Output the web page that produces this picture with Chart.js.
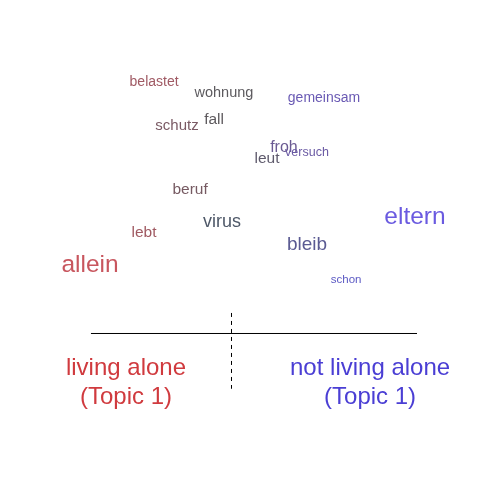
<!DOCTYPE html>
<html>
<head>
<meta charset="utf-8">
<script src="https://cdn.jsdelivr.net/npm/chart.js@4"></script>
<style>
html,body{margin:0;padding:0;background:#fff;}
#wrap{width:480px;height:480px;}
</style>
</head>
<body>
<div id="wrap"><canvas id="c" width="480" height="480"></canvas></div>
<script>
// Data
const words = ["belastet","wohnung","gemeinsam","schutz","fall","froh","versuch","leut","beruf","virus","lebt","eltern","bleib","allein","schon"];
const wordX = [-0.358,-0.067,0.35,-0.2625,-0.108,0.183,0.279,0.1125,-0.208,-0.075,-0.4,0.729,0.279,-0.625,0.442];
const wordY = [0.828,0.807,0.795,0.737,0.751,0.693,0.682,0.670,0.605,0.537,0.516,0.547,0.491,0.447,0.416];
const topicLabels = [["living alone","(Topic 1)"],["not living alone","(Topic 1)"]];
const labelX = [-0.475, 0.542];
const labelY = [0.233, 0.173];
const baseLineX = [-0.621, 0.7375];
const baseLineY = 0.30521;
const dividerX = -0.03542;
const dividerY = [0.348, 0.19];

// Styles
const wordSizes = [14,14.5,14,15,15.5,16,12.5,15.5,15.5,18,15.5,24.5,19,24.5,11.5];
const wordColors = ["#a05a64","#5c5a5e","#6a5ab4","#7a5a64","#5e5a5e","#6a5a92","#6a5aa4","#5e5a6c","#765a62","#4e5868","#a05a62","#6a5ae0","#5a5a92","#c8565e","#5c5ac4"];
const labelColors = ["#d03a3e","#4a3ed4"];

const textPlugin = {
  id: 'wordText',
  afterDatasetsDraw(chart) {
    const ctx = chart.ctx;
    const xs = chart.scales.x, ys = chart.scales.y;
    ctx.save();
    ctx.textAlign = 'center';
    ctx.textBaseline = 'middle';
    const meta = chart.getDatasetMeta(0);
    meta.data.forEach((pt, i) => {
      ctx.font = wordSizes[i] + 'px "Liberation Sans", Arial, sans-serif';
      ctx.fillStyle = wordColors[i];
      ctx.fillText(words[i], pt.x, pt.y);
    });
    topicLabels.forEach((lines, k) => {
      ctx.font = '24px "Liberation Sans", Arial, sans-serif';
      ctx.fillStyle = labelColors[k];
      lines.forEach((t, j) => {
        ctx.fillText(t, xs.getPixelForValue(labelX[k]), ys.getPixelForValue(labelY[j]));
      });
    });
    ctx.restore();
  }
};

new Chart(document.getElementById('c'), {
  type: 'scatter',
  data: {
    datasets: [
      { data: words.map((w, i) => ({x: wordX[i], y: wordY[i]})), pointRadius: 0, pointHoverRadius: 0 },
      { type: 'line', data: baseLineX.map(x => ({x: x, y: baseLineY})), borderColor: '#000', borderWidth: 1, pointRadius: 0, fill: false },
      { type: 'line', data: dividerY.map(y => ({x: dividerX, y: y})), borderColor: '#000', borderWidth: 1, borderDash: [4,4], pointRadius: 0, fill: false }
    ]
  },
  options: {
    responsive: false,
    animation: false,
    events: [],
    layout: { padding: 0 },
    plugins: { legend: { display: false }, tooltip: { enabled: false } },
    scales: {
      x: { type: 'linear', min: -1, max: 1, display: false },
      y: { type: 'linear', min: 0, max: 1, display: false }
    }
  },
  plugins: [textPlugin]
});
</script>
</body>
</html>
